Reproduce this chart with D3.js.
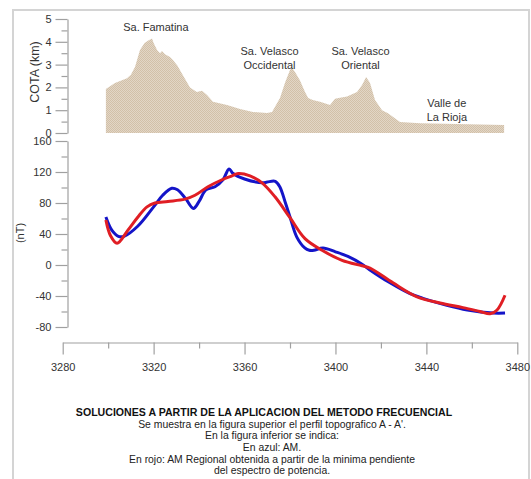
<!DOCTYPE html>
<html>
<head>
<meta charset="utf-8">
<script src="https://cdn.jsdelivr.net/npm/d3@7/dist/d3.min.js"></script>
<style>
  html, body { margin: 0; padding: 0; background: #fff; }
  svg { display: block; font-family: "Liberation Sans", Arial, sans-serif; }
</style>
</head>
<body>
<svg id="chart" width="531" height="479"></svg>
<script>
// Topographic profile A - A' (distance along profile, elevation in km)
const topoDist = [3299, 3303, 3308.3, 3310, 3311.8, 3314, 3316, 3317.5, 3319.3, 3320, 3321.5, 3322.8,
  3323.7, 3325, 3327.2, 3328.5, 3330.5, 3332.5, 3336, 3339, 3341.3, 3343.5, 3346.1, 3352.3, 3358,
  3363.7, 3369.9, 3372.1, 3375.6, 3377.8, 3380, 3380.9, 3382.2, 3384.4, 3386.6, 3388, 3390, 3393.2,
  3397.6, 3399.8, 3402, 3405.1, 3409.5, 3411.7, 3413.5, 3415.2, 3417.4, 3420.5, 3423.1, 3428.4,
  3437.2, 3474.2];
const topoElev = [1.93, 2.19, 2.4, 2.55, 2.9, 3.64, 3.95, 4.05, 4.15, 3.95, 3.64, 3.5,
  3.6, 3.45, 3.33, 3.2, 2.95, 2.6, 2.0, 1.8, 1.85, 1.67, 1.37, 1.23, 1.05,
  0.92, 0.88, 0.92, 1.53, 2.2, 2.76, 2.85, 2.68, 2.3, 1.8, 1.53, 1.45, 1.37,
  1.23, 1.5, 1.55, 1.6, 1.8, 2.1, 2.46, 2.19, 1.45, 1.0, 0.87, 0.48,
  0.43, 0.35];

// Anomalia magnetica (AM), in blue
const amDist = [3299, 3301.6, 3304.5, 3307, 3313, 3320, 3324, 3328, 3330.5, 3334, 3337.5, 3340,
  3343, 3347, 3350.5, 3353.2, 3355, 3360, 3368, 3370, 3373.5, 3375.5, 3378, 3380, 3383, 3386.5,
  3388.5, 3390.5, 3394.5, 3400, 3405.5, 3411.7, 3415, 3424, 3432.8, 3438.5, 3449, 3458, 3469.4, 3474.6];
const amValue = [62, 45, 37, 37, 50, 75, 90, 99, 97, 86, 73, 82,
  97, 101, 110, 124, 118, 111, 106, 107, 108, 101, 80, 62, 36, 22,
  19, 19, 22, 17, 11, 1, -6, -23, -37, -43, -52, -58, -62, -62];

// AM Regional (minimum slope of the power spectrum), in red
const regDist = [3299, 3301, 3303.9, 3308.7, 3313.1, 3317.1, 3320.6, 3326.3, 3333.8, 3338.2, 3343.9,
  3350.1, 3354.5, 3357.2, 3362.4, 3367.7, 3373.4, 3380, 3386.6, 3394.1, 3402.9, 3411.7, 3415.2,
  3425.3, 3435.9, 3446, 3456.1, 3463.6, 3468, 3471.1, 3474.6];
const regValue = [58, 38, 28, 45, 62, 75, 80, 82, 85, 90, 101,
  110, 115, 118, 115, 106, 88, 61, 34, 19, 6, -1, -4,
  -23, -41, -49, -55, -60, -63, -58, -39];

// Axis ticks
const xTicks = [3280, 3320, 3360, 3400, 3440, 3480];
const xMinorTicks = [3300, 3340, 3380, 3420, 3460];
const topTicks = [0, 1, 2, 3, 4, 5];
const topMinorTicks = [0.5, 1.5, 2.5, 3.5, 4.5];
const botTicks = [-80, -40, 0, 40, 80, 120, 160];
const botMinorTicks = [-60, -20, 20, 60, 100, 140];

// Peak labels (text lines, distance, elevation of the first baseline)
const peakLabels = [
  { lines: ["Sa. Famatina"], d: 3321, km: 4.47 },
  { lines: ["Sa. Velasco", "Occidental"], d: 3371, km: 3.42 },
  { lines: ["Sa. Velasco", "Oriental"], d: 3411, km: 3.42 },
  { lines: ["Valle de", "La Rioja"], d: 3449, km: 1.14 }
];

const captionTitle = "SOLUCIONES A PARTIR DE LA APLICACION DEL METODO FRECUENCIAL";
const captionLines = [
  "Se muestra en la figura superior el perfil topografico A - A'.",
  "En la figura inferior se indica:",
  "En azul: AM.",
  "En rojo: AM Regional obtenida a partir de la minima pendiente",
  "del espectro de potencia."
];

const svg = d3.select("#chart");
const textColor = "#333";
const axisColor = "#a0a0a0";
const plainFormat = d => String(d);

// frame
svg.append("rect").attr("x", 13).attr("y", 10).attr("width", 516).attr("height", 475)
  .attr("fill", "none").attr("stroke", "#d4d4d4").attr("stroke-width", 2);

const x = d3.scaleLinear().domain([3280, 3480]).range([62.7, 517.3]);
const yTop = d3.scaleLinear().domain([0, 5]).range([133, 19]);
const yBot = d3.scaleLinear().domain([-80, 160]).range([327, 141]);

function styleAxis(g) {
  g.selectAll("path.domain").attr("stroke", axisColor).attr("stroke-width", 1.2);
  g.selectAll(".tick line").attr("stroke", axisColor).attr("stroke-width", 1.2);
  g.selectAll(".tick text").attr("fill", textColor).attr("font-size", 11)
    .attr("font-family", "Liberation Sans, Arial, sans-serif");
}

// ---- top panel: topography ----
const area = d3.area()
  .x((d, i) => x(topoDist[i]))
  .y0(yTop(0))
  .y1((d, i) => yTop(topoElev[i]))
  .curve(d3.curveLinear);

const defs = svg.append("defs");
const pat = defs.append("pattern").attr("id", "hatch").attr("patternUnits", "userSpaceOnUse")
  .attr("width", 2).attr("height", 2);
pat.append("rect").attr("width", 2).attr("height", 2).attr("fill", "#e2d6c6");
pat.append("rect").attr("width", 1).attr("height", 1).attr("fill", "#d2c0a8");
pat.append("rect").attr("x", 1).attr("y", 1).attr("width", 1).attr("height", 1).attr("fill", "#d2c0a8");

svg.append("path").datum(topoElev).attr("d", area).attr("fill", "url(#hatch)");

const gTop = svg.append("g").attr("transform", "translate(67.5,0)")
  .call(d3.axisLeft(yTop).tickValues(topTicks).tickFormat(plainFormat)
    .tickSize(12).tickSizeOuter(0).tickPadding(4));
styleAxis(gTop);
const gTopMinor = svg.append("g").attr("transform", "translate(67.5,0)")
  .call(d3.axisLeft(yTop).tickValues(topMinorTicks).tickSize(6).tickFormat(""));
styleAxis(gTopMinor);
gTopMinor.select("path.domain").remove();

svg.append("text").attr("transform", "translate(39,72) rotate(-90)")
  .attr("text-anchor", "middle").attr("font-size", 12.5).attr("fill", textColor).text("COTA (km)");

peakLabels.forEach(p => {
  p.lines.forEach((t, i) => {
    svg.append("text").attr("x", x(p.d)).attr("y", yTop(p.km) + i * 14)
      .attr("text-anchor", "middle").attr("font-size", 11).attr("fill", textColor).text(t);
  });
});

// ---- bottom panel: magnetic anomaly ----
const gBot = svg.append("g").attr("transform", "translate(67.5,0)")
  .call(d3.axisLeft(yBot).tickValues(botTicks).tickFormat(plainFormat)
    .tickSize(12).tickSizeOuter(0).tickPadding(4));
styleAxis(gBot);
const gBotMinor = svg.append("g").attr("transform", "translate(67.5,0)")
  .call(d3.axisLeft(yBot).tickValues(botMinorTicks).tickSize(6).tickFormat(""));
styleAxis(gBotMinor);
gBotMinor.select("path.domain").remove();

const gX = svg.append("g").attr("transform", "translate(0,342.5)")
  .call(d3.axisBottom(x).tickValues(xTicks).tickFormat(plainFormat)
    .tickSize(12).tickSizeOuter(0).tickPadding(9));
styleAxis(gX);
const gXMinor = svg.append("g").attr("transform", "translate(0,342.5)")
  .call(d3.axisBottom(x).tickValues(xMinorTicks).tickSize(6).tickFormat(""));
styleAxis(gXMinor);
gXMinor.select("path.domain").remove();

svg.append("text").attr("transform", "translate(24,233) rotate(-90)")
  .attr("text-anchor", "middle").attr("font-size", 11).attr("fill", textColor).text("(nT)");

const lineAM = d3.line().x((d, i) => x(amDist[i])).y(d => yBot(d)).curve(d3.curveCatmullRom.alpha(0.5));
const lineReg = d3.line().x((d, i) => x(regDist[i])).y(d => yBot(d)).curve(d3.curveCatmullRom.alpha(0.5));

svg.append("path").datum(amValue).attr("d", lineAM).attr("fill", "none")
  .attr("stroke", "#1414c8").attr("stroke-width", 3).attr("stroke-linejoin", "round");
svg.append("path").datum(regValue).attr("d", lineReg).attr("fill", "none")
  .attr("stroke", "#e01e24").attr("stroke-width", 3).attr("stroke-linejoin", "round");

// ---- caption ----
svg.append("text").attr("x", 264).attr("y", 416).attr("text-anchor", "middle")
  .attr("font-size", 10.6).attr("font-weight", "bold").attr("fill", "#111").text(captionTitle);
captionLines.forEach((t, i) => {
  svg.append("text").attr("x", 272).attr("y", 427.8 + i * 11.6).attr("text-anchor", "middle")
    .attr("font-size", 10.4).attr("fill", "#222").text(t);
});
</script>
</body>
</html>
